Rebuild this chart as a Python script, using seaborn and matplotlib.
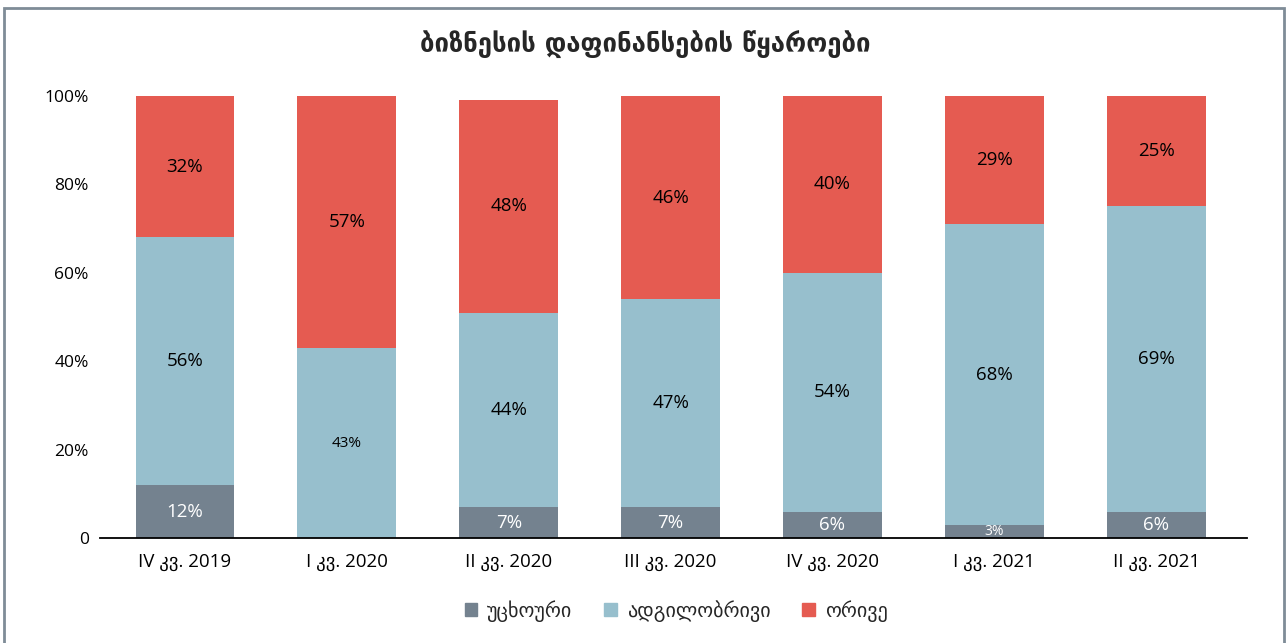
import numpy as np
import pandas as pd
import matplotlib
matplotlib.use("Agg")
import matplotlib.pyplot as plt
import matplotlib.patches as mpatches
import seaborn as sns

# data (percent)
quarters = ["IV კვ. 2019", "I კვ. 2020", "II კვ. 2020", "III კვ. 2020",
            "IV კვ. 2020", "I კვ. 2021", "II კვ. 2021"]
foreign = [12, 0, 7, 7, 6, 3, 6]
local = [56, 43, 44, 47, 54, 68, 69]
both = [32, 57, 48, 46, 40, 29, 25]
series_names = ["უცხოური", "ადგილობრივი", "ორივე"]
yticks = [0, 20, 40, 60, 80, 100]
ytick_labels = ["0", "20%", "40%", "60%", "80%", "100%"]
title = "ბიზნესის დაფინანსების წყაროები"

colors = ["#74828f", "#97bfcd", "#e55b51"]

sns.set_theme(style="white")
plt.rcParams["font.family"] = ["Open Sans", "DejaVu Sans"]

df = pd.DataFrame({"quarter": quarters, "foreign": foreign, "local": local, "both": both})
df["c1"] = df["foreign"]
df["c2"] = df["foreign"] + df["local"]
df["c3"] = df["c2"] + df["both"]

fig = plt.figure(figsize=(12.88, 6.43), dpi=100)
ax = fig.add_axes([0.0776, 0.163, 0.8905, 0.688])

# stacked bars drawn as overlapping cumulative totals
for col, c in zip(["c3", "c2", "c1"], colors[::-1]):
    sns.barplot(data=df, x="quarter", y=col, color=c, width=0.61,
                saturation=1, ax=ax, edgecolor="none", linewidth=0)

# value labels
for i, row in df.iterrows():
    if row["foreign"] > 0:
        ax.text(i, row["foreign"] / 2, f"{row['foreign']}%", ha="center", va="center",
                color="white", fontsize=13.5 if row["foreign"] > 4 else 10)
    fs = 11 if i == 1 else 13.5
    ax.text(i, row["c1"] + row["local"] / 2, f"{row['local']}%", ha="center",
            va="center", color="black", fontsize=fs)
    ax.text(i, row["c2"] + row["both"] / 2, f"{row['both']}%", ha="center",
            va="center", color="black", fontsize=13.5)

ax.set_xlim(-0.525, 6.56)
ax.set_ylim(0, 100)
ax.set_yticks(yticks)
ax.set_yticklabels(ytick_labels)
ax.set_xlabel("")
ax.set_ylabel("")
ax.tick_params(axis="both", length=0, colors="black")
ax.tick_params(axis="x", pad=11, labelsize=13.5)
ax.tick_params(axis="y", pad=8, labelsize=12.5)
for s in ["top", "right", "left"]:
    ax.spines[s].set_visible(False)
ax.spines["bottom"].set_color("black")
ax.spines["bottom"].set_linewidth(1.3)

fig.text(0.501, 0.93, title, ha="center", va="center", fontsize=18.5,
         fontweight="bold", family="DejaVu Sans")

handles = [mpatches.Patch(color=c, label=n) for c, n in zip(colors, series_names)]
fig.legend(handles=handles, loc="center", bbox_to_anchor=(0.525, 0.05), ncol=3,
           frameon=False, fontsize=14.5, handlelength=0.6, handleheight=0.6,
           columnspacing=1.6, handletextpad=0.5)

# grey frame around the figure
fig.patches.append(mpatches.Rectangle((0.003, -0.01), 0.994, 0.998, transform=fig.transFigure,
                                      fill=False, edgecolor="#7f8c97", linewidth=2))

fig.savefig("out.png", dpi=100)
